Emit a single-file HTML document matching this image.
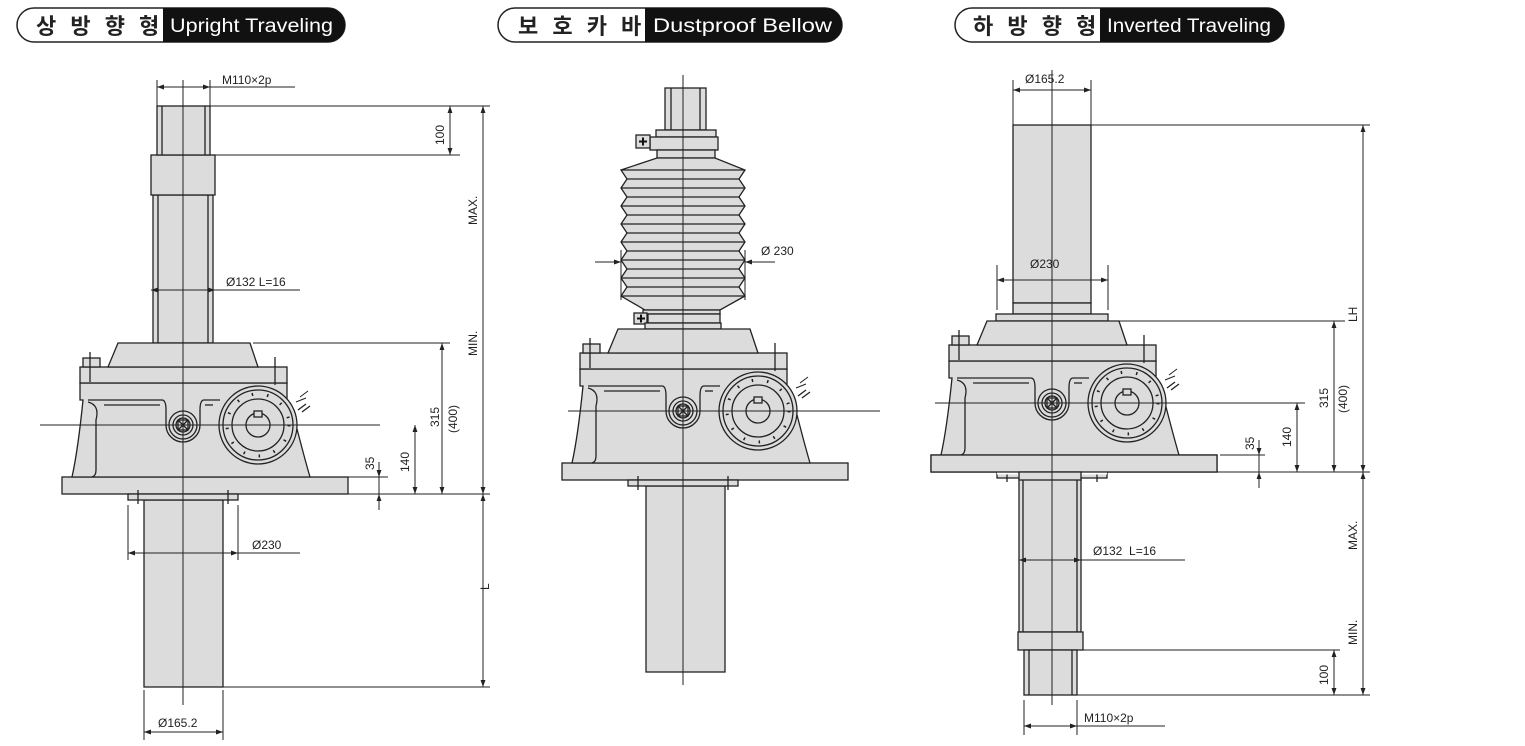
<!DOCTYPE html>
<html><head><meta charset="utf-8"><style>
html,body{margin:0;padding:0;background:#fff;width:1525px;height:746px;overflow:hidden}
svg{display:block}
text{font-family:"Liberation Sans",sans-serif;fill:#222}
</style></head><body>
<svg width="1525" height="746" viewBox="0 0 1525 746" xmlns="http://www.w3.org/2000/svg">
<defs>
<marker id="a" viewBox="0 0 10 10" refX="10" refY="5" markerWidth="7" markerHeight="7" orient="auto-start-reverse"><path d="M0,1.5 L10,5 L0,8.5z" fill="#222"/></marker>
<g id="gb" stroke="#222" stroke-width="1.3" fill="#dcdcdc">
  <rect x="62" y="477" width="286" height="17"/>
  <path d="M83,400 L80,400 L80,383 L287,383 L287,400 L296,425 Q305,460 310,477 L72,477 Q78,450 83,400z"/>
  <path d="M88,402 Q100,405 96,420 L96,470 Q96,476 92,477" fill="none"/>
  <rect x="80" y="367" width="207" height="16"/>
  <path d="M108,367 L118,343 L250,343 L258,367z"/>
  <rect x="83" y="358" width="17" height="9"/>
  <line x1="90" y1="352" x2="90" y2="382" fill="none"/>
  <line x1="275" y1="357" x2="275" y2="385" fill="none"/>
  <path d="M88,400 L162,400 Q166,400 166,410 L166,425 A17,17 0 0 0 200,425 L200,410 Q200,400 204,400 L220,400" fill="none"/>
  <line x1="104" y1="405" x2="160" y2="405" fill="none"/>
  <line x1="205" y1="405" x2="213" y2="405" fill="none"/>
  <circle cx="183" cy="425" r="14"/>
  <circle cx="183" cy="425" r="10"/>
  <circle cx="183" cy="425" r="7"/>
  <rect x="178" y="420" width="10" height="10" fill="none"/>
  <path d="M178,420 L188,430 M188,420 L178,430" fill="none"/>
  <circle cx="258" cy="425" r="39"/>
  <circle cx="258" cy="425" r="35"/>
  <circle cx="258" cy="425" r="31" fill="none" stroke-dasharray="1.5 14" stroke-width="3"/>
  <circle cx="258" cy="425" r="26"/>
  <circle cx="258" cy="425" r="12" fill="#dcdcdc"/>
  <rect x="254" y="411" width="8" height="6"/>
  <path d="M298,410 l8,-6 m-4,8 l8,-6" fill="none"/>
  <path d="M296,402 L306,398 M300,397 l8,-6" fill="none" stroke-width="1"/>
  <rect x="128" y="494" width="110" height="6"/>
  <line x1="138" y1="490" x2="138" y2="504" fill="none"/>
  <line x1="228" y1="490" x2="228" y2="504" fill="none"/>
</g>
</defs>
<g fill="none" stroke="#222" stroke-width="1.5">
<rect x="17" y="8" width="328" height="34" rx="17"/>
<rect x="498" y="8" width="344" height="34" rx="17"/>
<rect x="955" y="8" width="329" height="34" rx="17"/>
</g>
<path d="M163,8 L328,8 A17,17 0 0 1 328,42 L163,42z" fill="#111"/>
<path d="M645,8 L825,8 A17,17 0 0 1 825,42 L645,42z" fill="#111"/>
<path d="M1100,8 L1267,8 A17,17 0 0 1 1267,42 L1100,42z" fill="#111"/>
<text x="36" y="34" style='font-family:"Liberation Sans","Noto Sans CJK KR",sans-serif;font-size:22px;font-weight:bold;letter-spacing:4px'>상 방 향 형</text>
<text x="170" y="32" textLength="163" lengthAdjust="spacingAndGlyphs" style="font-size:19px;fill:#fff">Upright Traveling</text>
<text x="518" y="34" style='font-family:"Liberation Sans","Noto Sans CJK KR",sans-serif;font-size:22px;font-weight:bold;letter-spacing:4px'>보 호 카 바</text>
<text x="653" y="32" textLength="179" lengthAdjust="spacingAndGlyphs" style="font-size:19px;fill:#fff">Dustproof Bellow</text>
<text x="973" y="34" style='font-family:"Liberation Sans","Noto Sans CJK KR",sans-serif;font-size:22px;font-weight:bold;letter-spacing:4px'>하 방 향 형</text>
<text x="1107" y="32" textLength="164" lengthAdjust="spacingAndGlyphs" style="font-size:19px;fill:#fff">Inverted Traveling</text>

<!-- LEFT -->
<g stroke="#222" stroke-width="1.3" fill="#dcdcdc">
<rect x="144" y="500" width="79" height="187"/>
<rect x="153" y="195" width="60" height="148"/>
<rect x="151" y="155" width="64" height="40"/>
<rect x="157" y="106" width="53" height="49"/>
<line x1="162" y1="106" x2="162" y2="155"/><line x1="205" y1="106" x2="205" y2="155"/>
<line x1="158" y1="195" x2="158" y2="343"/><line x1="208" y1="195" x2="208" y2="343"/>
</g>
<use href="#gb"/>
<!-- MIDDLE -->
<g stroke="#222" stroke-width="1.3" fill="#dcdcdc">
<rect x="646" y="486" width="79" height="186"/>
<rect x="665" y="88" width="41" height="42"/>
<line x1="671" y1="88" x2="671" y2="130"/><line x1="700" y1="88" x2="700" y2="130"/>
<rect x="656" y="130" width="60" height="7"/>
<rect x="650" y="137" width="68" height="13"/>
<rect x="636" y="135" width="14" height="13"/>
<rect x="657" y="150" width="58" height="8"/>
<path d="M657,158 L715,158 L745,170 L739,179 L745,188 L739,197 L745,206 L739,215 L745,224 L739,233 L745,242 L739,251 L745,260 L739,269 L745,278 L739,287 L745,296 L720,310 L645,310 L621,296 L627,287 L621,278 L627,269 L621,260 L627,251 L621,242 L627,233 L621,224 L627,215 L621,206 L627,197 L621,188 L627,179 L621,170z"/>
<g fill="none">
<path d="M621,170H745M627,179H739M621,188H745M627,197H739M621,206H745M627,215H739M621,224H745M627,233H739M621,242H745M627,251H739M621,260H745M627,269H739M621,278H745M627,287H739M621,296H745"/>
</g>
<rect x="643" y="310" width="77" height="4"/>
<rect x="648" y="314" width="72" height="9"/>
<rect x="634" y="313" width="13" height="11"/>
<rect x="645" y="323" width="76" height="6"/>
</g>
<g stroke="#111" stroke-width="2"><path d="M639,141.5h8M643,137.5v8M637,318.5h8M641,314.5v8"/></g>
<use href="#gb" transform="translate(500,-14)"/>
<!-- RIGHT -->
<g stroke="#222" stroke-width="1.3" fill="#dcdcdc">
<rect x="1013" y="125" width="78" height="178"/>
<rect x="1013" y="303" width="78" height="11"/>
<rect x="996" y="314" width="112" height="7"/>
<rect x="1019" y="472" width="62" height="160"/>
<line x1="1023" y1="472" x2="1023" y2="632"/><line x1="1077" y1="472" x2="1077" y2="632"/>
<rect x="1018" y="632" width="65" height="18"/>
<rect x="1024" y="650" width="53" height="45"/>
<line x1="1029" y1="650" x2="1029" y2="695"/><line x1="1072" y1="650" x2="1072" y2="695"/>
</g>
<use href="#gb" transform="translate(869,-22)"/>
<g stroke="#fff" stroke-width="3"><line x1="997" y1="473" x2="1107" y2="473"/></g>
<g stroke="#222" stroke-width="1.3" fill="#dcdcdc"><rect x="931" y="455" width="286" height="17"/><rect x="1019" y="472" width="62" height="8"/></g>

<!-- center & dimension lines -->
<g stroke="#222" stroke-width="1" fill="none">
<line x1="183" y1="80" x2="183" y2="705"/>
<line x1="683" y1="75" x2="683" y2="685"/>
<line x1="1052" y1="70" x2="1052" y2="705"/>
<line x1="40" y1="425" x2="380" y2="425"/>
<line x1="568" y1="411" x2="880" y2="411"/>
<line x1="935" y1="403" x2="1305" y2="403"/>
<line x1="157" y1="80" x2="157" y2="106"/><line x1="210" y1="80" x2="210" y2="106"/>
<line x1="157" y1="87" x2="210" y2="87" marker-start="url(#a)" marker-end="url(#a)"/>
<line x1="210" y1="87" x2="295" y2="87"/>
<line x1="210" y1="106" x2="490" y2="106"/><line x1="215" y1="155" x2="460" y2="155"/>
<line x1="450" y1="106" x2="450" y2="155" marker-start="url(#a)" marker-end="url(#a)"/>
<line x1="483" y1="106" x2="483" y2="494" marker-start="url(#a)" marker-end="url(#a)"/>
<line x1="253" y1="343" x2="450" y2="343"/>
<line x1="442" y1="343" x2="442" y2="494" marker-start="url(#a)" marker-end="url(#a)"/>
<line x1="348" y1="494" x2="490" y2="494"/><line x1="348" y1="477" x2="388" y2="477"/>
<line x1="415" y1="425" x2="415" y2="494" marker-start="url(#a)" marker-end="url(#a)"/>
<line x1="379" y1="462" x2="379" y2="477" marker-end="url(#a)"/>
<line x1="379" y1="510" x2="379" y2="494" marker-end="url(#a)"/>
<line x1="379" y1="477" x2="379" y2="494"/>
<line x1="483" y1="494" x2="483" y2="687" marker-start="url(#a)" marker-end="url(#a)"/>
<line x1="223" y1="687" x2="490" y2="687"/>
<line x1="151" y1="290" x2="215" y2="290" marker-start="url(#a)" marker-end="url(#a)"/>
<line x1="215" y1="290" x2="300" y2="290"/>
<line x1="128" y1="505" x2="128" y2="560"/><line x1="238" y1="505" x2="238" y2="560"/>
<line x1="128" y1="553" x2="238" y2="553" marker-start="url(#a)" marker-end="url(#a)"/>
<line x1="238" y1="553" x2="300" y2="553"/>
<line x1="144" y1="690" x2="144" y2="740"/><line x1="223" y1="690" x2="223" y2="740"/>
<line x1="144" y1="732" x2="223" y2="732" marker-start="url(#a)" marker-end="url(#a)"/>
<line x1="595" y1="262" x2="621" y2="262" marker-end="url(#a)"/>
<line x1="775" y1="262" x2="745" y2="262" marker-end="url(#a)"/>
<line x1="621" y1="250" x2="621" y2="300"/><line x1="745" y1="250" x2="745" y2="300"/>
<line x1="1013" y1="80" x2="1013" y2="125"/><line x1="1091" y1="80" x2="1091" y2="125"/>
<line x1="1013" y1="90" x2="1091" y2="90" marker-start="url(#a)" marker-end="url(#a)"/>
<line x1="1091" y1="125" x2="1370" y2="125"/>
<line x1="1363" y1="125" x2="1363" y2="472" marker-start="url(#a)" marker-end="url(#a)"/>
<line x1="997" y1="265" x2="997" y2="310"/><line x1="1108" y1="265" x2="1108" y2="310"/>
<line x1="997" y1="280" x2="1108" y2="280" marker-start="url(#a)" marker-end="url(#a)"/>
<line x1="1117" y1="321" x2="1345" y2="321"/>
<line x1="1334" y1="321" x2="1334" y2="472" marker-start="url(#a)" marker-end="url(#a)"/>
<line x1="1297" y1="403" x2="1297" y2="472" marker-start="url(#a)" marker-end="url(#a)"/>
<line x1="1217" y1="472" x2="1370" y2="472"/><line x1="1220" y1="455" x2="1265" y2="455"/>
<line x1="1259" y1="440" x2="1259" y2="455" marker-end="url(#a)"/>
<line x1="1259" y1="488" x2="1259" y2="472" marker-end="url(#a)"/>
<line x1="1259" y1="455" x2="1259" y2="472"/>
<line x1="1363" y1="472" x2="1363" y2="695" marker-start="url(#a)" marker-end="url(#a)"/>
<line x1="1083" y1="650" x2="1340" y2="650"/><line x1="1077" y1="695" x2="1370" y2="695"/>
<line x1="1334" y1="650" x2="1334" y2="695" marker-start="url(#a)" marker-end="url(#a)"/>
<line x1="1019" y1="560" x2="1081" y2="560" marker-start="url(#a)" marker-end="url(#a)"/>
<line x1="1081" y1="560" x2="1185" y2="560"/>
<line x1="1024" y1="700" x2="1024" y2="735"/><line x1="1077" y1="700" x2="1077" y2="735"/>
<line x1="1024" y1="726" x2="1077" y2="726" marker-start="url(#a)" marker-end="url(#a)"/>
<line x1="1077" y1="726" x2="1165" y2="726"/>
</g>
<g style="font-size:12px">
<text x="222" y="84">M110×2p</text>
<text x="226" y="286">Ø132 L=16</text>
<text x="252" y="549">Ø230</text>
<text x="158" y="727">Ø165.2</text>
<text x="761" y="255">Ø 230</text>
<text x="1025" y="83">Ø165.2</text>
<text x="1030" y="268">Ø230</text>
<text x="1093" y="555">Ø132&#160;&#160;L=16</text>
<text x="1084" y="722">M110×2p</text>
<text transform="translate(444,145) rotate(-90)">100</text>
<text transform="translate(477,225) rotate(-90)">MAX.</text>
<text transform="translate(477,356) rotate(-90)">MIN.</text>
<text transform="translate(439,427) rotate(-90)">315</text>
<text transform="translate(457,433) rotate(-90)">(400)</text>
<text transform="translate(409,472) rotate(-90)">140</text>
<text transform="translate(374,470) rotate(-90)">35</text>
<text transform="translate(489,590) rotate(-90)">L</text>
<text transform="translate(1357,322) rotate(-90)">LH</text>
<text transform="translate(1328,408) rotate(-90)">315</text>
<text transform="translate(1347,413) rotate(-90)">(400)</text>
<text transform="translate(1291,447) rotate(-90)">140</text>
<text transform="translate(1254,450) rotate(-90)">35</text>
<text transform="translate(1357,550) rotate(-90)">MAX.</text>
<text transform="translate(1357,645) rotate(-90)">MIN.</text>
<text transform="translate(1328,685) rotate(-90)">100</text>
</g>
</svg>
</body></html>
